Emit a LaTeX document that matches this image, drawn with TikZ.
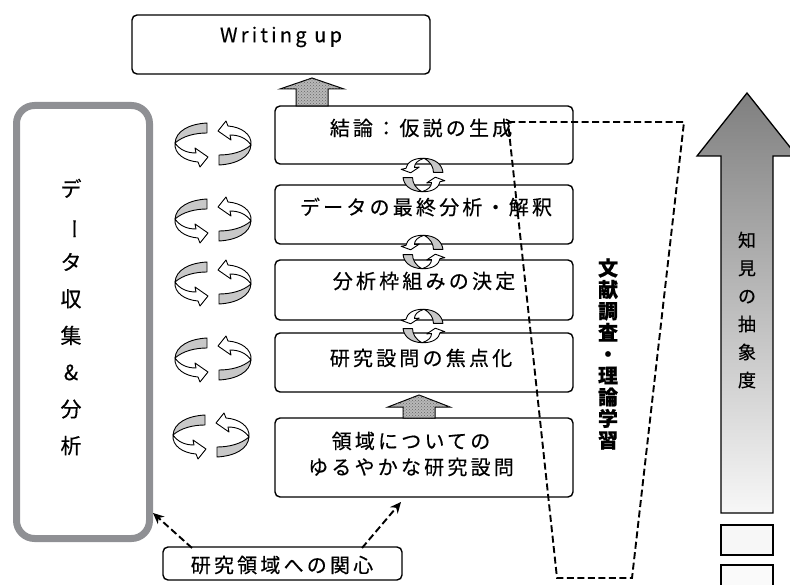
\documentclass[tikz,border=0pt]{standalone}
\usepackage{fontspec}
\usepackage{graphicx}
\usetikzlibrary{patterns,arrows.meta}
\newfontfamily\jp[FakeBold=0.4]{Noto Sans CJK JP}
\newfontfamily\jpsp[LetterSpace=16,FakeBold=0.4]{Noto Sans CJK JP}
\definecolor{framegray}{RGB}{143,144,148}
\definecolor{ribbongray}{RGB}{200,200,200}
\tikzset{
  box/.style={draw, line width=1.4pt, rounded corners=5pt, fill=white},
  boxtxt/.style={font=\jpsp\fontsize{20}{26}\selectfont, inner sep=0pt, align=center},
  cycgray/.style={draw, line width=0.9pt, fill=ribbongray, line join=round},
  cycwhite/.style={draw, line width=0.9pt, fill=white, line join=round},
  hatcharrow/.style={draw, line width=1pt, fill=black!28, line join=miter,
    postaction={pattern=crosshatch dots, pattern color=black!60}},
  dashln/.style={dash pattern=on 7pt off 3.5pt, line width=1.9pt}
}
\newcommand\myhalfcyc{%
  \path[cycgray] (-6,-21) .. controls (-24,-20) and (-37,-13) .. (-38,-1)
     .. controls (-30,-8) and (-18,-11) .. (-6,-11) -- cycle;
  \path[cycwhite] (-38,-1) .. controls (-33,6) and (-26,9) .. (-17,9)
     -- (-18,4) -- (-5,13) -- (-13,23) -- (-15,18)
     .. controls (-28,17) and (-39,10) .. (-38,-1) -- cycle;}
\newcommand\mycycpair[1]{%
  \begin{scope}[#1]
    \myhalfcyc
    \begin{scope}[rotate=180]\myhalfcyc\end{scope}
  \end{scope}}
\begin{document}
\begin{tikzpicture}[x=1pt,y=-1pt]
\useasboundingbox (0,0) rectangle (790,585);
\begin{scope}
\clip (0,0) rectangle (790,585);

% left frame
\node[draw=framegray, line width=7pt, rounded corners=18pt, minimum width=133pt,
  minimum height=433pt, inner sep=0pt] (data) at (83,322) {};
\node[font=\jp\fontsize{21}{36.7}\selectfont, align=center, inner sep=0pt] (datatxt) at (71,317)
  {デ\\\rotatebox[origin=c]{-90}{ー}\\タ\\収\\集\\\&\\分\\析};

% boxes
\node[box, minimum width=298pt, minimum height=59pt, inner sep=0pt] (w)  at (281,44.5) {};
\node[box, minimum width=298pt, minimum height=58pt, inner sep=0pt] (b1) at (424,135) {};
\node[box, minimum width=298pt, minimum height=59pt, inner sep=0pt] (b2) at (424,214.5) {};
\node[box, minimum width=298pt, minimum height=60pt, inner sep=0pt] (b3) at (424,290) {};
\node[box, minimum width=298pt, minimum height=59pt, inner sep=0pt] (b4) at (424,362.5) {};
\node[box, minimum width=298pt, minimum height=79pt, inner sep=0pt] (b5) at (424,457.5) {};
\node[box, minimum width=239pt, minimum height=33pt, inner sep=0pt] (ir) at (282.5,563.5) {};

% hatched arrows
\path[hatcharrow] (296,106) -- (296,89) -- (280,89) -- (312,78) -- (344,89) -- (328,89) -- (328,106) -- cycle;
\path[hatcharrow] (403,418) -- (403,407) -- (388,407) -- (419,395) -- (450,407) -- (435,407) -- (435,418) -- cycle;

% small cycles between boxes
\mycycpair{shift={(423,175)}, xscale=0.95, yscale=0.44, rotate=-90}
\mycycpair{shift={(423,252)}, xscale=0.95, yscale=0.44, rotate=-90}
\mycycpair{shift={(423,326)}, xscale=0.95, yscale=0.44, rotate=-90}

% left cycles
\mycycpair{shift={(213,144)}}
\mycycpair{shift={(213,220)}}
\mycycpair{shift={(213,283)}}
\mycycpair{shift={(213,359)}}
\mycycpair{shift={(211,436)}}

% texts in boxes
\node[boxtxt] (wt)  at (281,37) {Writing up};
\node[boxtxt] (t1)  at (421,128) {結論：仮説の生成};
\node[boxtxt] (t2)  at (426,207) {データの最終分析・解釈};
\node[boxtxt] (t3)  at (424,281) {分析枠組みの決定};
\node[boxtxt] (t4)  at (421,358) {研究設問の焦点化};
\node[boxtxt] (t5)  at (411,454) {領域についての\\ゆるやかな研究設問};
\node[boxtxt] (irt) at (282,565) {研究領域への関心};

% dashed trapezoid
\coordinate (p1) at (508,122);
\coordinate (p2) at (684,122);
\coordinate (p3) at (632,578);
\coordinate (p4) at (557,578);
\draw[dashln] (p1) -- (p2) -- (p3) -- (p4) -- cycle;
\node[font=\jp\bfseries\fontsize{20}{21.5}\selectfont, align=center, inner sep=0pt] (lit) at (608,354)
  {文\\献\\調\\査\\・\\理\\論\\学\\習};

% big gradient arrow
\shade[top color=black!50, bottom color=black!3]
  (721,513) -- (721,156) -- (697,156) -- (747,93) -- (797,156) -- (773,156) -- (773,513) -- cycle;
\draw[line width=1.3pt, line join=miter]
  (721,513) -- (721,156) -- (697,156) -- (747,93) -- (797,156) -- (773,156) -- (773,513) -- cycle;
\node[font=\jp\fontsize{18}{28}\selectfont, align=center, inner sep=0pt] (abs) at (747,310)
  {知\\見\\の\\抽\\象\\度};
\node[draw, line width=1.3pt, fill=black!3, minimum width=52pt, minimum height=30pt, inner sep=0pt] (r1) at (747,540) {};
\node[draw, line width=1.3pt, fill=black!2, minimum width=52pt, minimum height=30pt, inner sep=0pt] (r2) at (747,580) {};

% dashed arrows from interest
\coordinate (i1) at (192,548);
\coordinate (i1e) at (153,513);
\coordinate (i2) at (362,548);
\coordinate (i2e) at (401,502);
\draw[dashln, -{Stealth[length=11pt,width=10pt]}] (i1) -- (i1e);
\draw[dashln, -{Stealth[length=11pt,width=10pt]}] (i2) -- (i2e);
\end{scope}
\end{tikzpicture}
\end{document}
